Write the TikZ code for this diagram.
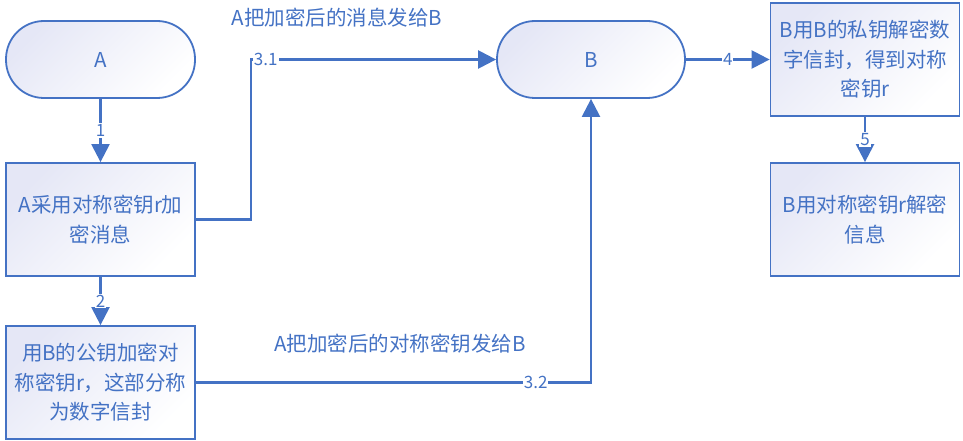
\documentclass[tikz,border=0pt]{standalone}
\usepackage{fontspec}
\setmainfont{Noto Sans CJK SC}
\usetikzlibrary{arrows.meta}
\definecolor{edgec}{RGB}{68,114,196}
\definecolor{lav}{RGB}{229,231,246}
\tikzset{
 box/.style={draw=edgec, line width=1.8pt, top color=lav, bottom color=white, shading angle=45,
   minimum width=189pt, minimum height=113pt, inner sep=0pt, text=edgec, align=center,
   font=\fontsize{20.5}{29.5}\selectfont},
 term/.style={box, minimum height=77pt, rounded corners=38pt},
 conn/.style={draw=edgec, line width=2.4pt, -{Triangle[length=18pt,width=18pt]}},
 lbl/.style={fill=white, text=edgec, inner sep=1pt, font=\fontsize{17}{17}\selectfont},
 note/.style={text=edgec, font=\fontsize{20.5}{22}\selectfont, inner sep=0pt},
}
\begin{document}
\begin{tikzpicture}[x=1pt,y=-1pt]
\useasboundingbox (0,0) rectangle (963,441);
\node[term] (A) at (100.5,59.5) {A};
\node[box] (a1) at (100.5,219.5) {A采用对称密钥r加\\密消息};
\node[box] (a2) at (100.5,382.5) {用B的公钥加密对\\称密钥r，这部分称\\为数字信封};
\node[term, minimum width=188pt] (B) at (591,59.5) {B};
\node[box] (b1) at (865,59.5) {B用B的私钥解密数\\字信封，得到对称\\密钥r};
\node[box] (b2) at (865,219.5) {B用对称密钥r解密\\信息};
\node[note] (n1) at (337,18) {A把加密后的消息发给B};
\node[note] (n2) at (400,344) {A把加密后的对称密钥发给B};
\coordinate (k31) at (251,59.5);
\draw[conn] (A) -- node[lbl]{1} (a1);
\draw[conn] (a1) -- node[lbl]{2} (a2);
\draw[conn] (a1.east) -| (k31) -- node[lbl,pos=0.06]{3.1} (B.west);
\draw[conn] (a2.east) -| node[lbl,pos=0.43]{3.2} (B.south);
\draw[conn] (B) -- node[lbl]{4} (b1);
\draw[conn] (b1) -- node[lbl]{5} (b2);
\end{tikzpicture}
\end{document}
